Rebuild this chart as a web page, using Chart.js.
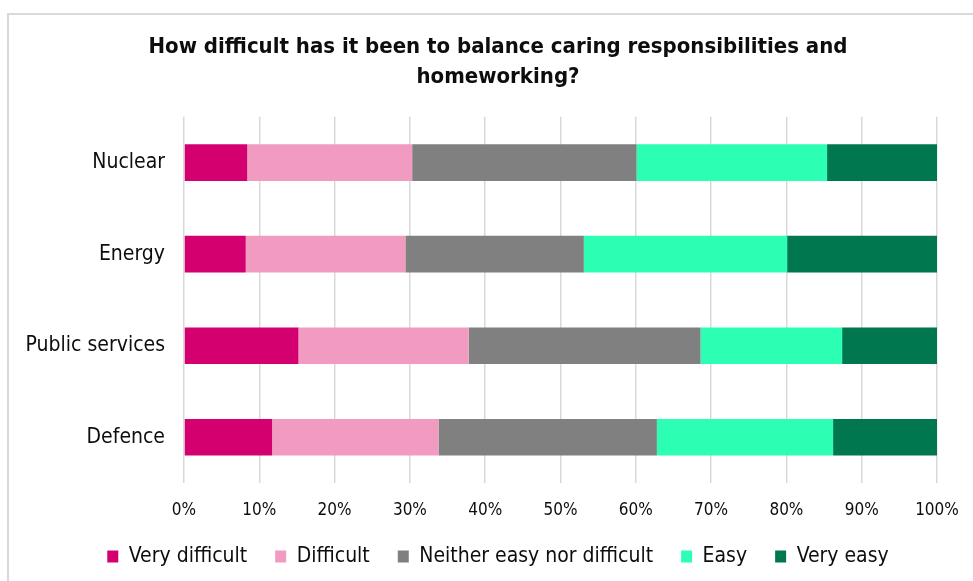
<!DOCTYPE html>
<html>
<head>
<meta charset="utf-8">
<script src="https://cdn.jsdelivr.net/npm/chart.js@4"></script>
<style>
  html, body { margin: 0; padding: 0; background: #fff; overflow: hidden; }
  #wrap { position: relative; width: 995px; height: 581px; }
  #frame { position: absolute; left: 7px; top: 13px; width: 1100px; height: 700px;
           border-left: 2px solid #d9d9d9; border-top: 2px solid #d9d9d9; pointer-events: none; }
</style>
</head>
<body>
<div id="wrap">
  <canvas id="chart" width="995" height="581"></canvas>
  <div id="frame"></div>
</div>
<script>
// ── dados ─────────────────────────────────────────────
const categories = ['Nuclear', 'Energy', 'Public services', 'Defence'];
const seriesNames = ['Very difficult', 'Difficult', 'Neither easy nor difficult', 'Easy', 'Very easy'];
const veryDifficult = [8.4, 8.2, 15.2, 11.7];
const difficult     = [21.9, 21.2, 22.6, 22.1];
const neither       = [29.8, 23.7, 30.8, 29.0];
const easy          = [25.3, 27.0, 18.8, 23.4];
const veryEasy      = [14.6, 19.9, 12.6, 13.8];
const seriesColors  = ['#D4006F', '#F19BC1', '#808080', '#2CFFB4', '#00774E'];
const xTicks = [0, 10, 20, 30, 40, 50, 60, 70, 80, 90, 100];

const FONT = "'DejaVu Sans Condensed', 'DejaVu Sans'";
const TXT = '#0d0d0d';

const allSeries = [veryDifficult, difficult, neither, easy, veryEasy];

const chart = new Chart(document.getElementById('chart'), {
  type: 'bar',
  data: {
    labels: categories,
    datasets: allSeries.map((vals, i) => ({
      label: seriesNames[i],
      data: vals,
      xAxisID: 'x',
      yAxisID: 'y',
      backgroundColor: seriesColors[i],
      borderWidth: 0,
      categoryPercentage: 1,
      barPercentage: 0.4
    }))
  },
  options: {
    indexAxis: 'y',
    responsive: false,
    animation: false,
    layout: { padding: { top: 32, bottom: 4, left: 10, right: 9 } },
    plugins: {
      title: {
        display: true,
        text: ['How difficult has it been to balance caring responsibilities and', 'homeworking?'],
        color: TXT,
        font: { family: FONT, size: 22, weight: 'bold', lineHeight: 1.36 },
        padding: { top: 0, bottom: 25 }
      },
      legend: {
        position: 'bottom',
        labels: {
          color: TXT,
          font: { family: FONT, size: 21 },
          boxWidth: 11,
          boxHeight: 12,
          padding: 28
        }
      },
      tooltip: { enabled: false }
    },
    scales: {
      x: {
        stacked: true,
        min: 0,
        max: 100,
        afterBuildTicks: s => { s.ticks = xTicks.map(v => ({ value: v })); },
        afterFit: s => { s.height = 35; },
        border: { display: false },
        grid: { color: '#d9d9d9', lineWidth: 1.5, drawTicks: false },
        ticks: { color: TXT, font: { family: FONT, size: 17 }, padding: 17, callback: v => v + '%' }
      },
      y: {
        stacked: true,
        afterFit: s => { s.width = 184 - 10; },
        border: { display: false },
        grid: { display: false },
        ticks: { color: TXT, font: { family: FONT, size: 21 }, padding: 11 }
      },
      // eixo vazio à direita: só reserva espaço p/ centralizar título/legenda
      y2: {
        type: 'category',
        position: 'right',
        afterFit: s => { s.width = 49; },
        border: { display: false },
        grid: { display: false },
        ticks: { display: false }
      }
    }
  }
});
</script>
</body>
</html>
